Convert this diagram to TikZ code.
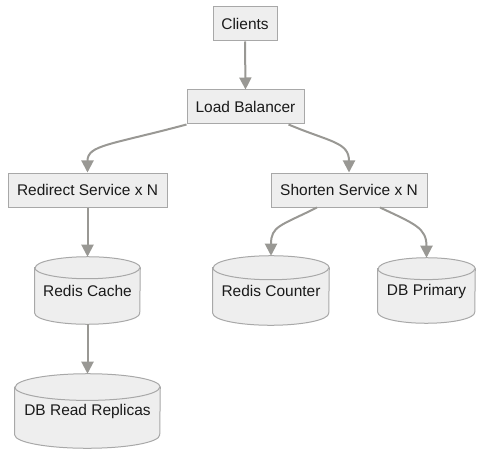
\documentclass[tikz,border=0pt]{standalone}
\usepackage{fontspec}
\setmainfont{Liberation Sans}
\usetikzlibrary{arrows.meta}
\definecolor{edgegray}{HTML}{999894}
\definecolor{boxfill}{HTML}{EEEEEE}
\definecolor{boxline}{HTML}{A8A8A8}
\definecolor{txt}{HTML}{1A1A1A}
\newcommand\cylshape[3]{% node name, half width, ry
  \draw[boxline,fill=boxfill,line width=0.75pt]
    ([yshift=-#3]#1.north west) -- ([yshift=#3]#1.south west)
    arc[start angle=180,end angle=360,x radius=#2,y radius=#3]
    -- ([yshift=-#3]#1.north east)
    arc[start angle=0,end angle=180,x radius=#2,y radius=#3] -- cycle;
  \draw[boxline,line width=0.75pt] ([yshift=-#3]#1.north west)
    arc[start angle=180,end angle=360,x radius=#2,y radius=#3];
}
\begin{document}
\begin{tikzpicture}[x=0.75pt,y=-0.75pt,
  every node/.style={font=\fontsize{11.6pt}{13pt}\selectfont,text=txt,inner sep=0pt},
  box/.style={draw=boxline,fill=boxfill,line width=0.75pt,minimum height=25.5pt},
  cylnode/.style={draw=none},
  conn/.style={draw=edgegray,line width=1.5pt,-{Triangle[width=9pt,length=9pt]}}]
\useasboundingbox (0,0) rectangle (491,463);
\node[box,minimum width=48pt] (cl) at (245,24) {Clients};
\node[box,minimum width=87.75pt] (lb) at (245.5,107) {Load Balancer};
\node[box,minimum width=119.25pt] (rs) at (87.5,190) {Redirect Service x N};
\node[box,minimum width=117pt] (ss) at (349,190) {Shorten Service x N};
% cylinders
\node[cylnode,minimum width=78.75pt,minimum height=50.25pt] (rc) at (87.5,290.5) {};
\cylshape{rc}{39.375pt}{8.25pt}
\node at (87.5,291) {Redis Cache};
\node[cylnode,minimum width=87pt,minimum height=51.75pt] (rcn) at (271,290.5) {};
\cylshape{rcn}{43.5pt}{9pt}
\node at (271,291) {Redis Counter};
\node[cylnode,minimum width=72.75pt,minimum height=48.75pt] (dbp) at (426.5,290.5) {};
\cylshape{dbp}{36.375pt}{8.2pt}
\node at (426.5,291) {DB Primary};
\node[cylnode,minimum width=108.75pt,minimum height=55.5pt] (dbr) at (87.5,411) {};
\cylshape{dbr}{54.375pt}{10pt}
\node at (87.5,411) {DB Read Replicas};
% connectors
\draw[conn] (cl.south) -- (lb.north);
\draw[conn] (lb.south west) .. controls (110,145) and (87.5,145) .. (rs.north);
\draw[conn] ([xshift=32.25pt]lb.south) .. controls (330,142) and (349,142) .. (ss.north);
\draw[conn] (rs.south) -- (rc.north);
\draw[conn] ([xshift=-24pt]ss.south) .. controls (280,226) and (271,226) .. (rcn.north);
\draw[conn] ([xshift=23.25pt]ss.south) .. controls (415,224) and (426.5,228) .. (dbp.north);
\draw[conn] (rc.south) -- (dbr.north);
\end{tikzpicture}
\end{document}
